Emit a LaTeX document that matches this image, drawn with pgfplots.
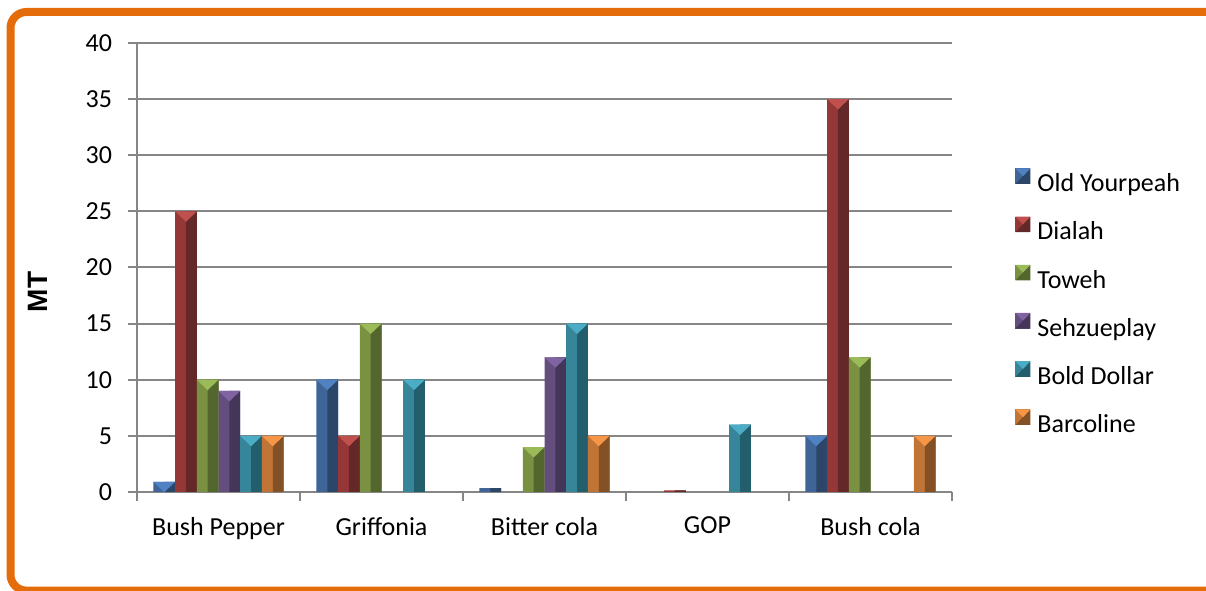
\documentclass[border=0pt]{standalone}
\usepackage{pgfplots}
\pgfplotsset{compat=1.18}
\usepackage{fontspec}
\setmainfont{Carlito}
\newfontfamily\arialb[BoldFont={Liberation Sans Bold}]{Liberation Sans}
\definecolor{framec}{RGB}{228,108,10}
\definecolor{gridc}{RGB}{134,134,134}
% blue
\definecolor{bA}{RGB}{63,100,150}\definecolor{bB}{RGB}{44,70,105}\definecolor{bC}{RGB}{80,130,195}
% red
\definecolor{rA}{RGB}{150,55,55}\definecolor{rB}{RGB}{100,40,40}\definecolor{rC}{RGB}{192,80,77}
% green
\definecolor{gA}{RGB}{122,145,66}\definecolor{gB}{RGB}{83,102,46}\definecolor{gC}{RGB}{155,187,89}
% purple
\definecolor{pA}{RGB}{100,78,126}\definecolor{pB}{RGB}{68,54,88}\definecolor{pC}{RGB}{128,100,162}
% teal
\definecolor{tA}{RGB}{55,133,153}\definecolor{tB}{RGB}{35,94,108}\definecolor{tC}{RGB}{75,172,198}
% orange
\definecolor{oA}{RGB}{192,116,54}\definecolor{oB}{RGB}{132,80,38}\definecolor{oC}{RGB}{247,150,70}
\pgfdeclareplotmark{bevtop}{%
  \pgfpathmoveto{\pgfqpoint{-5.425bp}{0bp}}%
  \pgfpathlineto{\pgfqpoint{5.425bp}{0bp}}%
  \pgfpathlineto{\pgfqpoint{0bp}{-5.2bp}}%
  \pgfpathclose
  \pgfusepathqfill}
\newcommand\fs{\fontsize{13bp}{15.6bp}\selectfont}
% #1 main, #2 dark, #3 light, #4 shift, #5 dark-half shift, #6 bar coords, #7 cap coords
\newcommand\series[7]{%
  \addplot[ybar, bar width=10.85bp, bar shift=#4bp, fill=#1, draw=none,
    legend image code/.code={%
      \fill[#1] (0bp,0.4bp) rectangle (7.5bp,8.2bp);
      \fill[#2] (0bp,0.4bp) -- (7.5bp,0.4bp) -- (7.5bp,8.2bp) -- (3.75bp,4.3bp) -- cycle;
      \fill[#3] (0bp,8.2bp) -- (7.5bp,8.2bp) -- (3.75bp,4.3bp) -- cycle;}]
    coordinates {#6};
  \addplot[ybar, bar width=5.425bp, bar shift=#5bp, fill=#2, draw=none, forget plot]
    coordinates {#6};
  \addplot[sharp plot, draw=none, mark=bevtop, mark options={fill=#3, draw=none}, xshift=#4bp, forget plot]
    coordinates {#7};
}
\begin{document}
\begin{tikzpicture}
\path[use as bounding box] (0,0) rectangle (603bp,295.5bp);
\begin{scope}
\clip (0,0) rectangle (603bp,295.5bp);
\draw[framec, line width=4bp, rounded corners=8bp] (5.25bp,0.2bp) rectangle (640bp,289.5bp);
\end{scope}
\begin{axis}[
  at={(68.5bp,49.5bp)}, anchor=south west,
  scale only axis, width=407.5bp, height=224.5bp,
  xmin=-0.5, xmax=4.5, ymin=0, ymax=40,
  clip marker paths=true,
  ytick={0,5,...,40},
  xtick={-0.5,0.5,...,4.5},
  xticklabels={Bush Pepper,Griffonia,Bitter cola,GOP,Bush cola,{}},
  xticklabel style={xshift=40.75bp, yshift=-4.5bp, font=\fs},
  yticklabel style={font=\fs, xshift=-4.5bp},
  /pgf/number format/assume math mode=true,
  axis lines*=left,
  axis line style={gridc, line width=1bp},
  tick align=outside, major tick length=4.5bp,
  tick style={gridc, line width=1bp},
  ymajorgrids, grid style={gridc, line width=1bp},
  ylabel={\arialb\bfseries MT},
  ylabel style={at={(axis description cs:-0.1214,0.4454)}, anchor=center, font=\fontsize{14bp}{16bp}\selectfont},
  legend style={draw=none, fill=none, inner sep=0pt, at={(axis description cs:1.0773,0.7216)}, anchor=north west,
    font=\fs, nodes={inner sep=0pt, text height=9.5bp, text depth=2.5bp},
    /tikz/row sep=9.9bp,
    /tikz/every odd column/.append style={column sep=3.5bp}},
  legend cell align=left,
]
\series{bA}{bB}{bC}{-27.125}{-24.4125}{(0,0.9) (1,10) (2,0.35) (4,5)}{(0,0.9) (1,10) (4,5)}
\series{rA}{rB}{rC}{-16.275}{-13.5625}{(0,25) (1,5) (3,0.15) (4,35)}{(0,25) (1,5) (4,35)}
\series{gA}{gB}{gC}{-5.425}{-2.7125}{(0,10) (1,15) (2,4) (4,12)}{(0,10) (1,15) (2,4) (4,12)}
\series{pA}{pB}{pC}{5.425}{8.1375}{(0,9) (2,12)}{(0,9) (2,12)}
\series{tA}{tB}{tC}{16.275}{18.9875}{(0,5) (1,10) (2,15) (3,6)}{(0,5) (1,10) (2,15) (3,6)}
\series{oA}{oB}{oC}{27.125}{29.8375}{(0,5) (2,5) (4,5)}{(0,5) (2,5) (4,5)}
\legend{Old Yourpeah,Dialah,Toweh,Sehzueplay,Bold Dollar,Barcoline}
\end{axis}
\end{tikzpicture}
\end{document}
